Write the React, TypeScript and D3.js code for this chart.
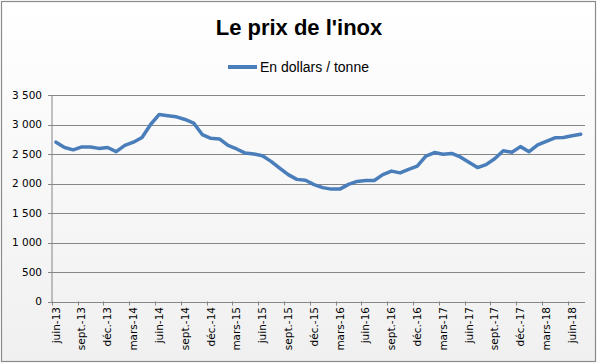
import React from "react";
import * as d3 from "d3";

const TITLE = "Le prix de l'inox";
const SERIES_NAME = "En dollars / tonne";
const MONTHS = ["juin", "juil.", "août", "sept.", "oct.", "nov.", "déc.", "janv.", "févr.", "mars", "avr.", "mai"];
// 62 monthly categories: juin-13 .. juil-18
const categories: string[] = Array.from({ length: 62 }, (_, i) => {
  const m = (5 + i) % 12;
  const y = 13 + Math.floor((5 + i) / 12);
  return `${MONTHS[(m + 7) % 12]}-${y}`;
});
const values = [
  2700, 2610, 2570, 2620, 2620, 2595, 2610, 2540, 2645, 2700,
  2780, 3000, 3170, 3150, 3130, 3085, 3025, 2830, 2765, 2755,
  2645, 2585, 2515, 2500, 2470, 2375, 2260, 2150, 2070, 2055,
  1980, 1930, 1905, 1905, 1985, 2035, 2050, 2050, 2150, 2210,
  2180, 2240, 2295, 2465, 2525, 2495, 2510, 2450, 2360, 2270,
  2320, 2420, 2555, 2530, 2625, 2540, 2655, 2715, 2775, 2780,
  2810, 2835,
];
const yTicks = [0, 500, 1000, 1500, 2000, 2500, 3000, 3500];

const W = 600, H = 364;
const fmt = d3.formatLocale({ decimal: ",", thousands: " ", grouping: [3], currency: ["", ""] }).format(",d");

export default function App() {
  const x = d3.scaleBand<number>().domain(categories.map((_, i) => i)).range([51.7, 585]).padding(0);
  const y = d3.scaleLinear().domain([0, 3500]).range([301.5, 95]);
  const cx = (i: number) => (x(i) as number) + x.bandwidth() / 2;
  const line = d3.line<number>().x((_, i) => cx(i)).y((d) => y(d)).curve(d3.curveLinear);
  const tickIdx = categories.map((_, i) => i).filter((i) => i % 3 === 0);
  const font = "'DejaVu Sans', sans-serif";
  return (
    <svg width={W} height={H} style={{ position: "absolute", left: 0, top: 0 }}>
      <defs>
        <linearGradient id="bg" x1="0" y1="0" x2="0" y2="1">
          <stop offset="0" stopColor="#ffffff" />
          <stop offset="1" stopColor="#f0f0f0" />
        </linearGradient>
      </defs>
      <rect x={1.5} y={1.5} width={594} height={360} fill="url(#bg)" stroke="#8a8a8a" strokeWidth={1.2} />
      <text x={299} y={35} textAnchor="middle" fontFamily="'Liberation Sans', Arial, sans-serif" fontWeight="bold" fontSize={22} fill="#000">{TITLE}</text>
      <line x1={228} x2={257} y1={67} y2={67} stroke="#4a7ebb" strokeWidth={4} />
      <text x={260} y={72} fontFamily="'Liberation Sans', Arial, sans-serif" fontSize={14} fill="#000">{SERIES_NAME}</text>
      {yTicks.map((t) => (
        <g key={t}>
          {t > 0 && <line x1={48} x2={585} y1={Math.round(y(t)) + 0.5} y2={Math.round(y(t)) + 0.5} stroke="#868686" strokeWidth={1} />}
          <line x1={48} x2={52} y1={Math.round(y(t)) + 0.5} y2={Math.round(y(t)) + 0.5} stroke="#868686" />
          <text x={42} y={y(t)} dy="0.35em" textAnchor="end" fontFamily={font} fontSize={10.5} fill="#000">{fmt(t)}</text>
        </g>
      ))}
      <line x1={52} x2={52} y1={y(3500)} y2={y(0) + 0.5} stroke="#868686" />
      <line x1={52} x2={585} y1={Math.round(y(0)) + 0.5} y2={Math.round(y(0)) + 0.5} stroke="#868686" />
      {tickIdx.map((i) => (
        <g key={i}>
          <line x1={Math.round(x(i) as number) + 0.5} x2={Math.round(x(i) as number) + 0.5} y1={y(0)} y2={y(0) + 4} stroke="#868686" />
          <text transform={`translate(${cx(i)},307) rotate(-90)`} dy="0.35em" textAnchor="end" fontFamily={font} fontSize={10.5} fill="#000">{categories[i]}</text>
        </g>
      ))}
      <path d={line(values) || ""} fill="none" stroke="#4a7ebb" strokeWidth={3.5} strokeLinejoin="round" strokeLinecap="round" />
    </svg>
  );
}
